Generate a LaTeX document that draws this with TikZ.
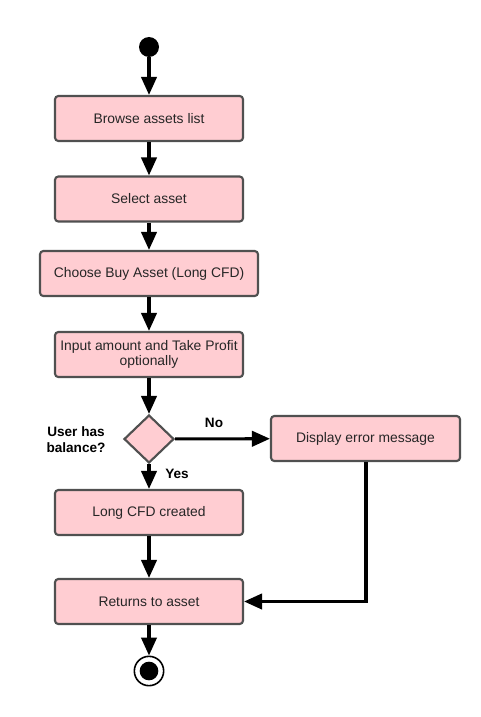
\documentclass[tikz,border=0pt]{standalone}
\usepackage{fontspec}
\setmainfont{Liberation Sans}
\usetikzlibrary{arrows.meta,shapes.geometric}
\definecolor{boxfill}{RGB}{255,205,210}
\definecolor{boxdraw}{RGB}{80,80,80}
\begin{document}
\begin{tikzpicture}[x=0.75pt,y=-0.75pt,
  act/.style={draw=boxdraw,fill=boxfill,line width=1.6pt,rounded corners=2.5pt,
    minimum height=33.75pt,align=center,font=\fontsize{10.4}{11}\selectfont,text=black!85},
  flow/.style={line width=2.3pt,-{Triangle[length=13.5pt,width=11.5pt]}},
  lbl/.style={font=\bfseries\fontsize{10.2}{12}\selectfont,align=center}]
\useasboundingbox (0,0) rectangle (481,717);
\node[circle,fill=black,minimum size=15pt,inner sep=0pt] (start) at (149,47) {};
\node[act,minimum width=141pt] (b1) at (149,118.5) {Browse assets list};
\node[act,minimum width=141pt] (b2) at (149,199) {Select asset};
\node[act,minimum width=163.5pt] (b3) at (149,273.5) {Choose Buy Asset (Long CFD)};
\node[act,minimum width=141pt,inner sep=1pt] (b4) at (149,354.5) {Input amount and Take Profit\\optionally};
\node[diamond,draw=boxdraw,fill=boxfill,line width=1.6pt,minimum width=37.5pt,minimum height=36pt,inner sep=0pt] (d) at (149,439) {};
\node[act,minimum width=141.75pt] (err) at (365.5,438.5) {Display error message};
\node[act,minimum width=141pt] (b5) at (149,512.5) {Long CFD created};
\node[act,minimum width=141pt] (b6) at (149,601.5) {Returns to asset};
\node[circle,draw=black,line width=1.2pt,fill=white,minimum size=22pt,inner sep=0pt] (end) at (149,671) {};
\node[circle,fill=black,minimum size=14pt,inner sep=0pt] at (end) {};
\node[lbl] (q) at (76,440) {User has\\balance?};
\node[lbl] (no) at (214,423) {No};
\node[lbl] (yes) at (177,474) {Yes};
\coordinate (corner) at (366,601.5);
\draw[flow] (start) -- (b1);
\draw[flow] (b1) -- (b2);
\draw[flow] (b2) -- (b3);
\draw[flow] (b3) -- (b4);
\draw[flow] (b4) -- (d);
\draw[flow] (d) -- (err);
\draw[flow] (d) -- (b5);
\draw[flow] (b5) -- (b6);
\draw[flow] (b6) -- (end);
\draw[flow] (err.south -| corner) -- (corner) -- (b6.east);
\end{tikzpicture}
\end{document}
